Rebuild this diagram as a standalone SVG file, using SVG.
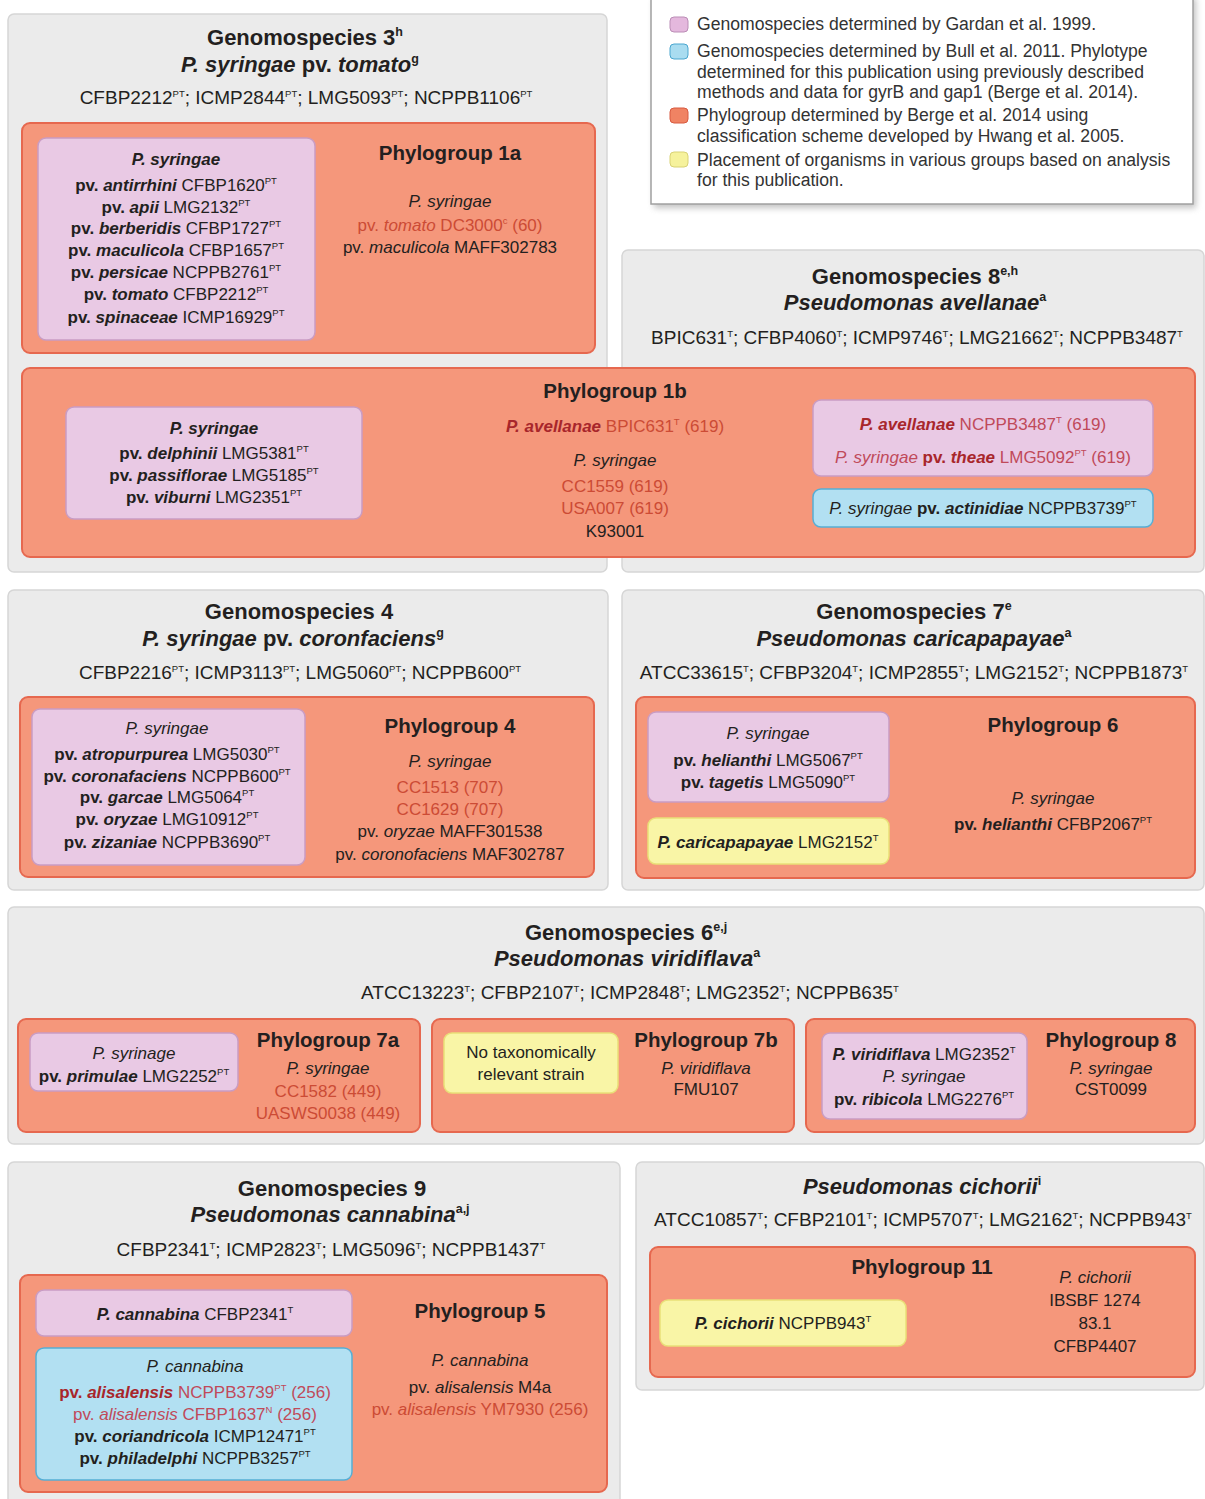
<svg xmlns="http://www.w3.org/2000/svg" width="1205" height="1499" viewBox="0 0 1205 1499">
<style>
.t{font-family:"Liberation Sans",Arial,sans-serif;fill:#231f20;text-anchor:middle}
.l{font-family:"Liberation Sans",Arial,sans-serif;fill:#333333;font-size:17.6px}
.h{font-size:22px;font-weight:bold}
.s{font-size:19px}
.b{font-size:17px}
.pg{font-size:20.5px;font-weight:bold}
.bi{font-weight:bold;font-style:italic}
.i{font-style:italic}
.bo{font-weight:bold}
.sup{font-size:9.5px;baseline-shift:7px;font-weight:normal;font-style:normal}
.hs{font-size:12.5px;baseline-shift:9px}
.red{fill:#cc4b35}
.dred{fill:#a8262b}
.pred{fill:#c04a5a}
.panel{fill:#ebebeb;stroke:#d6d6d6;stroke-width:1.5}
.pgr{fill:#f5977b;stroke:#e6684f;stroke-width:2}
.pur{fill:#e9c9e4;stroke:#c99cc3;stroke-width:1.5}
.blu{fill:#b2e0f2;stroke:#56aed5;stroke-width:1.5}
.yel{fill:#f9f5a6;stroke:#e9df78;stroke-width:1.5}
</style>
<defs>
<filter id="sh" x="-5%" y="-5%" width="110%" height="120%"><feGaussianBlur stdDeviation="3"/></filter>
</defs>
<rect width="1205" height="1499" fill="#ffffff"/>

<!-- Legend -->
<g id="legend">
<rect x="654" y="-2" width="542" height="210" fill="#9a9a9a" filter="url(#sh)" opacity="0.6"/>
<rect x="651" y="-4" width="542" height="208" fill="#ffffff" stroke="#a0a0a0" stroke-width="1.5"/>
<rect x="670" y="17" width="18" height="15" rx="4" fill="#e4b8dd" stroke="#bb8db6"/>
<rect x="670" y="44" width="18" height="15" rx="4" fill="#a9dcf0" stroke="#4aa6cf"/>
<rect x="670" y="108" width="18" height="15" rx="4" fill="#f08363" stroke="#d85a40"/>
<rect x="670" y="152" width="18" height="15" rx="4" fill="#f6f29c" stroke="#d9d275"/>
<text class="l" x="697" y="30">Genomospecies determined by Gardan et al. 1999.</text>
<text class="l" x="697" y="57">Genomospecies determined by Bull et al. 2011. Phylotype</text>
<text class="l" x="697" y="78">determined for this publication using previously described</text>
<text class="l" x="697" y="98">methods and data for gyrB and gap1 (Berge et al. 2014).</text>
<text class="l" x="697" y="121">Phylogroup determined by Berge et al. 2014 using</text>
<text class="l" x="697" y="142">classification scheme developed by Hwang et al. 2005.</text>
<text class="l" x="697" y="166">Placement of organisms in various groups based on analysis</text>
<text class="l" x="697" y="186">for this publication.</text>
</g>

<!-- Genomospecies 3 -->
<g id="gs3">
<rect class="panel" x="8" y="14" width="599" height="558" rx="6"/>
<text class="t h" x="305" y="45">Genomospecies 3<tspan class="hs">h</tspan></text>
<text class="t h" x="300" y="72"><tspan class="i">P. syringae</tspan> pv. <tspan class="i">tomato</tspan><tspan class="hs">g</tspan></text>
<text class="t s" x="306" y="104">CFBP2212<tspan class="sup">PT</tspan>; ICMP2844<tspan class="sup">PT</tspan>; LMG5093<tspan class="sup">PT</tspan>; NCPPB1106<tspan class="sup">PT</tspan></text>
</g>

<!-- Genomospecies 8 -->
<g id="gs8">
<rect class="panel" x="622" y="250" width="582" height="322" rx="6"/>
<text class="t h" x="915" y="284">Genomospecies 8<tspan class="hs">e,h</tspan></text>
<text class="t h" x="915" y="310"><tspan class="i">Pseudomonas avellanae</tspan><tspan class="hs">a</tspan></text>
<text class="t s" x="917" y="344">BPIC631<tspan class="sup">T</tspan>; CFBP4060<tspan class="sup">T</tspan>; ICMP9746<tspan class="sup">T</tspan>; LMG21662<tspan class="sup">T</tspan>; NCPPB3487<tspan class="sup">T</tspan></text>
</g>

<!-- Phylogroup 1a -->
<g id="pg1a">
<rect class="pgr" x="22" y="123" width="573" height="230" rx="8"/>
<text class="t pg" x="450" y="160">Phylogroup 1a</text>
<text class="t b i" x="450" y="207">P. syringae</text>
<text class="t b red" x="450" y="231">pv. <tspan class="i">tomato</tspan> DC3000<tspan class="sup">c</tspan> (60)</text>
<text class="t b" x="450" y="253">pv. <tspan class="i">maculicola</tspan> MAFF302783</text>
</g>
<g id="gs3-strains">
<rect class="pur" x="38" y="138" width="277" height="202" rx="8"/>
<text class="t b bi" x="176" y="165">P. syringae</text>
<text class="t b" x="176" y="191"><tspan class="bo">pv. </tspan><tspan class="bi">antirrhini</tspan> CFBP1620<tspan class="sup">PT</tspan></text>
<text class="t b" x="176" y="213"><tspan class="bo">pv. </tspan><tspan class="bi">apii</tspan> LMG2132<tspan class="sup">PT</tspan></text>
<text class="t b" x="176" y="234"><tspan class="bo">pv. </tspan><tspan class="bi">berberidis</tspan> CFBP1727<tspan class="sup">PT</tspan></text>
<text class="t b" x="176" y="256"><tspan class="bo">pv. </tspan><tspan class="bi">maculicola</tspan> CFBP1657<tspan class="sup">PT</tspan></text>
<text class="t b" x="176" y="278"><tspan class="bo">pv. </tspan><tspan class="bi">persicae</tspan> NCPPB2761<tspan class="sup">PT</tspan></text>
<text class="t b" x="176" y="300"><tspan class="bo">pv. </tspan><tspan class="bi">tomato</tspan> CFBP2212<tspan class="sup">PT</tspan></text>
<text class="t b" x="176" y="323"><tspan class="bo">pv. </tspan><tspan class="bi">spinaceae</tspan> ICMP16929<tspan class="sup">PT</tspan></text>
</g>

<!-- Phylogroup 1b -->
<g id="pg1b">
<rect class="pgr" x="22" y="368" width="1173" height="189" rx="8"/>
<text class="t pg" x="615" y="398">Phylogroup 1b</text>
<text class="t b red" x="615" y="432"><tspan class="bi dred">P. avellanae</tspan> BPIC631<tspan class="sup">T</tspan> (619)</text>
<text class="t b i" x="615" y="466">P. syringae</text>
<text class="t b red" x="615" y="492">CC1559 (619)</text>
<text class="t b red" x="615" y="514">USA007 (619)</text>
<text class="t b" x="615" y="537">K93001</text>
</g>
<g id="pg1b-gardan-left">
<rect class="pur" x="66" y="407" width="296" height="112" rx="8"/>
<text class="t b bi" x="214" y="434">P. syringae</text>
<text class="t b" x="214" y="459"><tspan class="bo">pv. </tspan><tspan class="bi">delphinii</tspan> LMG5381<tspan class="sup">PT</tspan></text>
<text class="t b" x="214" y="481"><tspan class="bo">pv. </tspan><tspan class="bi">passiflorae</tspan> LMG5185<tspan class="sup">PT</tspan></text>
<text class="t b" x="214" y="503"><tspan class="bo">pv. </tspan><tspan class="bi">viburni</tspan> LMG2351<tspan class="sup">PT</tspan></text>
</g>
<g id="pg1b-gardan-right">
<rect class="pur" x="813" y="400" width="340" height="76" rx="8"/>
<text class="t b pred" x="983" y="430"><tspan class="bi dred">P. avellanae</tspan> NCPPB3487<tspan class="sup">T</tspan> (619)</text>
<text class="t b pred" x="983" y="463"><tspan class="i">P. syringae</tspan> <tspan class="bo dred">pv. </tspan><tspan class="bi dred">theae</tspan> LMG5092<tspan class="sup">PT</tspan>  (619)</text>
</g>
<g id="pg1b-bull">
<rect class="blu" x="813" y="489" width="340" height="38" rx="8"/>
<text class="t b" x="983" y="514"><tspan class="i">P. syringae</tspan> <tspan class="bo">pv. </tspan><tspan class="bi">actinidiae</tspan> NCPPB3739<tspan class="sup">PT</tspan></text>
</g>

<!-- Genomospecies 4 -->
<g id="gs4">
<rect class="panel" x="8" y="590" width="600" height="300" rx="6"/>
<text class="t h" x="299" y="619">Genomospecies 4</text>
<text class="t h" x="293" y="646"><tspan class="i">P. syringae</tspan> pv. <tspan class="i">coronfaciens</tspan><tspan class="hs">g</tspan></text>
<text class="t s" x="300" y="679">CFBP2216<tspan class="sup">PT</tspan>; ICMP3113<tspan class="sup">PT</tspan>; LMG5060<tspan class="sup">PT</tspan>; NCPPB600<tspan class="sup">PT</tspan></text>
</g>
<g id="pg4">
<rect class="pgr" x="20" y="697" width="574" height="180" rx="8"/>
<text class="t pg" x="450" y="733">Phylogroup 4</text>
<text class="t b i" x="450" y="767">P. syringae</text>
<text class="t b red" x="450" y="793">CC1513 (707)</text>
<text class="t b red" x="450" y="815">CC1629 (707)</text>
<text class="t b" x="450" y="837">pv. <tspan class="i">oryzae</tspan> MAFF301538</text>
<text class="t b" x="450" y="860">pv. <tspan class="i">coronofaciens</tspan> MAF302787</text>
</g>
<g id="pg4-gardan">
<rect class="pur" x="32" y="709" width="273" height="156" rx="8"/>
<text class="t b i" x="167" y="734">P. syringae</text>
<text class="t b" x="167" y="760"><tspan class="bo">pv. </tspan><tspan class="bi">atropurpurea</tspan> LMG5030<tspan class="sup">PT</tspan></text>
<text class="t b" x="167" y="782"><tspan class="bo">pv. </tspan><tspan class="bi">coronafaciens</tspan> NCPPB600<tspan class="sup">PT</tspan></text>
<text class="t b" x="167" y="803"><tspan class="bo">pv. </tspan><tspan class="bi">garcae</tspan> LMG5064<tspan class="sup">PT</tspan></text>
<text class="t b" x="167" y="825"><tspan class="bo">pv. </tspan><tspan class="bi">oryzae</tspan> LMG10912<tspan class="sup">PT</tspan></text>
<text class="t b" x="167" y="848"><tspan class="bo">pv. </tspan><tspan class="bi">zizaniae</tspan> NCPPB3690<tspan class="sup">PT</tspan></text>
</g>

<!-- Genomospecies 7 -->
<g id="gs7">
<rect class="panel" x="622" y="590" width="582" height="300" rx="6"/>
<text class="t h" x="914" y="619">Genomospecies 7<tspan class="hs">e</tspan></text>
<text class="t h" x="914" y="646"><tspan class="i">Pseudomonas caricapapayae</tspan><tspan class="hs">a</tspan></text>
<text class="t s" x="914" y="679">ATCC33615<tspan class="sup">T</tspan>; CFBP3204<tspan class="sup">T</tspan>; ICMP2855<tspan class="sup">T</tspan>; LMG2152<tspan class="sup">T</tspan>; NCPPB1873<tspan class="sup">T</tspan></text>
</g>
<g id="pg6">
<rect class="pgr" x="636" y="697" width="559" height="181" rx="8"/>
<text class="t pg" x="1053" y="732">Phylogroup 6</text>
<text class="t b i" x="1053" y="804">P. syringae</text>
<text class="t b" x="1053" y="830"><tspan class="bo">pv. </tspan><tspan class="bi">helianthi</tspan> CFBP2067<tspan class="sup">PT</tspan></text>
</g>
<g id="pg6-gardan">
<rect class="pur" x="648" y="712" width="241" height="90" rx="8"/>
<text class="t b i" x="768" y="739">P. syringae</text>
<text class="t b" x="768" y="766"><tspan class="bo">pv. </tspan><tspan class="bi">helianthi</tspan> LMG5067<tspan class="sup">PT</tspan></text>
<text class="t b" x="768" y="788"><tspan class="bo">pv. </tspan><tspan class="bi">tagetis</tspan> LMG5090<tspan class="sup">PT</tspan></text>
</g>
<g id="pg6-placement">
<rect class="yel" x="648" y="818" width="241" height="46" rx="8"/>
<text class="t b" x="768" y="848"><tspan class="bi">P. caricapapayae</tspan> LMG2152<tspan class="sup">T</tspan></text>
</g>

<!-- Genomospecies 6 -->
<g id="gs6">
<rect class="panel" x="8" y="907" width="1196" height="237" rx="6"/>
<text class="t h" x="626" y="940">Genomospecies 6<tspan class="hs">e,j</tspan></text>
<text class="t h" x="627" y="966"><tspan class="i">Pseudomonas viridiflava</tspan><tspan class="hs">a</tspan></text>
<text class="t s" x="630" y="999">ATCC13223<tspan class="sup">T</tspan>; CFBP2107<tspan class="sup">T</tspan>; ICMP2848<tspan class="sup">T</tspan>; LMG2352<tspan class="sup">T</tspan>; NCPPB635<tspan class="sup">T</tspan></text>
</g>
<g id="pg7a">
<rect class="pgr" x="18" y="1019" width="402" height="113" rx="8"/>
<text class="t pg" x="328" y="1047">Phylogroup 7a</text>
<text class="t b i" x="328" y="1074">P. syringae</text>
<text class="t b red" x="328" y="1097">CC1582 (449)</text>
<text class="t b red" x="328" y="1119">UASWS0038 (449)</text>
</g>
<g id="pg7a-gardan">
<rect class="pur" x="30" y="1033" width="208" height="58" rx="8"/>
<text class="t b i" x="134" y="1059">P. syrinage</text>
<text class="t b" x="134" y="1082"><tspan class="bo">pv. </tspan><tspan class="bi">primulae</tspan> LMG2252<tspan class="sup">PT</tspan></text>
</g>
<g id="pg7b">
<rect class="pgr" x="432" y="1019" width="362" height="113" rx="8"/>
<text class="t pg" x="706" y="1047">Phylogroup 7b</text>
<text class="t b i" x="706" y="1074">P. viridiflava</text>
<text class="t b" x="706" y="1095">FMU107</text>
</g>
<g id="pg7b-placement">
<rect class="yel" x="444" y="1033" width="174" height="60" rx="8"/>
<text class="t b" x="531" y="1058">No taxonomically</text>
<text class="t b" x="531" y="1080">relevant strain</text>
</g>
<g id="pg8">
<rect class="pgr" x="806" y="1019" width="389" height="113" rx="8"/>
<text class="t pg" x="1111" y="1047">Phylogroup 8</text>
<text class="t b i" x="1111" y="1074">P. syringae</text>
<text class="t b" x="1111" y="1095">CST0099</text>
</g>
<g id="pg8-gardan">
<rect class="pur" x="822" y="1033" width="205" height="86" rx="8"/>
<text class="t b" x="924" y="1060"><tspan class="bi">P. viridiflava</tspan> LMG2352<tspan class="sup">T</tspan></text>
<text class="t b i" x="924" y="1082">P. syringae</text>
<text class="t b" x="924" y="1105"><tspan class="bo">pv. </tspan><tspan class="bi">ribicola</tspan> LMG2276<tspan class="sup">PT</tspan></text>
</g>

<!-- Genomospecies 9 -->
<g id="gs9">
<rect class="panel" x="8" y="1162" width="612" height="345" rx="6"/>
<text class="t h" x="332" y="1196">Genomospecies 9</text>
<text class="t h" x="330" y="1222"><tspan class="i">Pseudomonas cannabina</tspan><tspan class="hs">a,j</tspan></text>
<text class="t s" x="331" y="1256">CFBP2341<tspan class="sup">T</tspan>; ICMP2823<tspan class="sup">T</tspan>; LMG5096<tspan class="sup">T</tspan>; NCPPB1437<tspan class="sup">T</tspan></text>
</g>
<g id="pg5">
<rect class="pgr" x="20" y="1275" width="587" height="217" rx="8"/>
<text class="t pg" x="480" y="1318">Phylogroup 5</text>
<text class="t b i" x="480" y="1366">P. cannabina</text>
<text class="t b" x="480" y="1393">pv. <tspan class="i">alisalensis</tspan> M4a</text>
<text class="t b red" x="480" y="1415">pv. <tspan class="i">alisalensis</tspan> YM7930 (256)</text>
</g>
<g id="pg5-gardan">
<rect class="pur" x="36" y="1290" width="316" height="46" rx="8"/>
<text class="t b" x="195" y="1320"><tspan class="bi">P. cannabina</tspan> CFBP2341<tspan class="sup">T</tspan></text>
</g>
<g id="pg5-bull">
<rect class="blu" x="36" y="1348" width="316" height="132" rx="8"/>
<text class="t b i" x="195" y="1372">P. cannabina</text>
<text class="t b pred" x="195" y="1398"><tspan class="bo dred">pv. </tspan><tspan class="bi dred">alisalensis</tspan> NCPPB3739<tspan class="sup">PT</tspan> (256)</text>
<text class="t b pred" x="195" y="1420">pv. <tspan class="i">alisalensis</tspan> CFBP1637<tspan class="sup">N</tspan> (256)</text>
<text class="t b" x="195" y="1442"><tspan class="bo">pv. </tspan><tspan class="bi">coriandricola</tspan> ICMP12471<tspan class="sup">PT</tspan></text>
<text class="t b" x="195" y="1464"><tspan class="bo">pv. </tspan><tspan class="bi">philadelphi</tspan> NCPPB3257<tspan class="sup">PT</tspan></text>
</g>

<!-- Pseudomonas cichorii -->
<g id="cichorii">
<rect class="panel" x="636" y="1162" width="568" height="228" rx="6"/>
<text class="t h" x="922" y="1194"><tspan class="i">Pseudomonas cichorii</tspan><tspan class="hs">i</tspan></text>
<text class="t s" x="923" y="1226">ATCC10857<tspan class="sup">T</tspan>; CFBP2101<tspan class="sup">T</tspan>; ICMP5707<tspan class="sup">T</tspan>; LMG2162<tspan class="sup">T</tspan>; NCPPB943<tspan class="sup">T</tspan></text>
</g>
<g id="pg11">
<rect class="pgr" x="650" y="1247" width="545" height="130" rx="8"/>
<text class="t pg" x="922" y="1274">Phylogroup 11</text>
<text class="t b i" x="1095" y="1283">P. cichorii</text>
<text class="t b" x="1095" y="1306">IBSBF 1274</text>
<text class="t b" x="1095" y="1329">83.1</text>
<text class="t b" x="1095" y="1352">CFBP4407</text>
</g>
<g id="pg11-placement">
<rect class="yel" x="660" y="1300" width="246" height="46" rx="8"/>
<text class="t b" x="783" y="1329"><tspan class="bi">P. cichorii</tspan> NCPPB943<tspan class="sup">T</tspan></text>
</g>

<g id="connectors"/>
</svg>
